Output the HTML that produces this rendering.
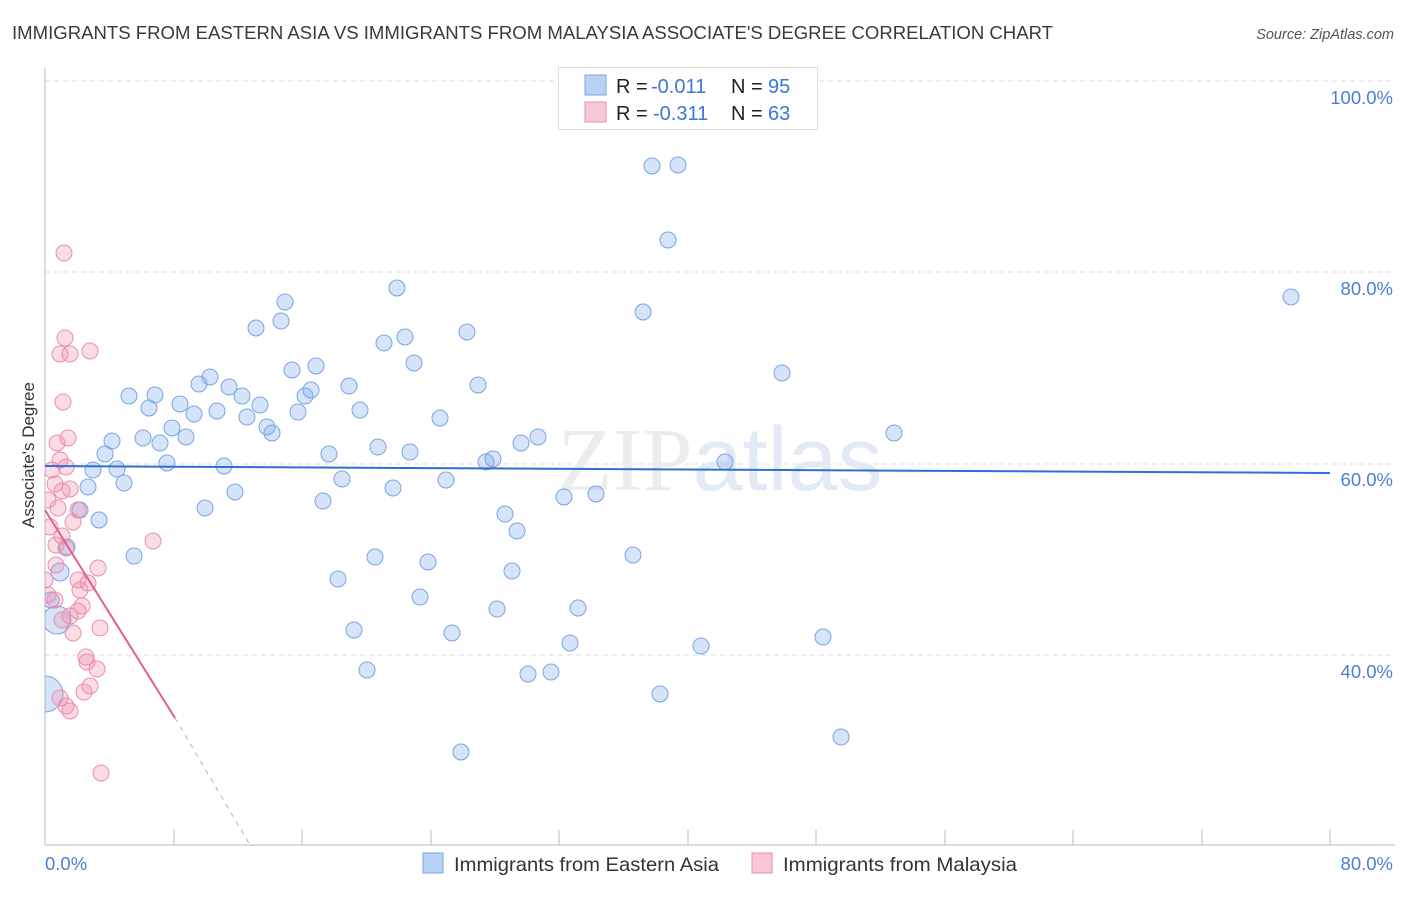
<!DOCTYPE html>
<html><head><meta charset="utf-8"><style>
body{margin:0;background:#fff;font-family:"Liberation Sans",sans-serif}
</style></head><body>
<svg width="1406" height="892" xmlns="http://www.w3.org/2000/svg" font-family="Liberation Sans, sans-serif">
<defs><clipPath id="c"><rect x="45" y="60" width="1360" height="785"/></clipPath></defs>
<text x="12" y="39" font-size="18.6" fill="#3a3a3a" textLength="1041" lengthAdjust="spacingAndGlyphs">IMMIGRANTS FROM EASTERN ASIA VS IMMIGRANTS FROM MALAYSIA ASSOCIATE'S DEGREE CORRELATION CHART</text>
<text x="1394" y="39" font-size="14.5" fill="#555" font-style="italic" text-anchor="end">Source: ZipAtlas.com</text>
<g stroke="#ddd" stroke-dasharray="5,4" stroke-width="1">
<line x1="45" y1="81" x2="1395" y2="81"/><line x1="45" y1="272" x2="1395" y2="272"/><line x1="45" y1="464" x2="1395" y2="464"/><line x1="45" y1="655" x2="1395" y2="655"/>
</g>
<line x1="45" y1="68" x2="45" y2="845" stroke="#bbb"/>
<line x1="45" y1="845" x2="1395" y2="845" stroke="#bbb"/>
<g stroke="#bbb"><line x1="174" y1="830" x2="174" y2="845"/><line x1="302" y1="830" x2="302" y2="845"/><line x1="431" y1="830" x2="431" y2="845"/><line x1="559" y1="830" x2="559" y2="845"/><line x1="688" y1="830" x2="688" y2="845"/><line x1="816" y1="830" x2="816" y2="845"/><line x1="945" y1="830" x2="945" y2="845"/><line x1="1073" y1="830" x2="1073" y2="845"/><line x1="1202" y1="830" x2="1202" y2="845"/><line x1="1330" y1="830" x2="1330" y2="845"/></g>
<g font-size="18.5" fill="#4a7fd6" text-anchor="end"><text x="1393" y="104">100.0%</text><text x="1393" y="295">80.0%</text><text x="1393" y="486">60.0%</text><text x="1393" y="678">40.0%</text></g>
<text x="45" y="870" font-size="18.5" fill="#4a7fd6">0.0%</text>
<text x="1393" y="870" font-size="18.5" fill="#4a7fd6" text-anchor="end">80.0%</text>
<text transform="translate(34,455) rotate(-90)" font-size="17" fill="#333" text-anchor="middle">Associate's Degree</text>
<text x="720" y="490" font-size="90" fill="#ececec" text-anchor="middle" font-family="Liberation Serif, serif">ZIP<tspan font-family="Liberation Sans, sans-serif" fill="#e2eaf6">atlas</tspan></text>
<g clip-path="url(#c)">
<g fill="rgba(120,165,235,0.3)" stroke="#7aa5e3" stroke-width="1">
<circle cx="652" cy="166" r="8"/><circle cx="678" cy="165" r="8"/><circle cx="668" cy="240" r="8"/><circle cx="1291" cy="297" r="8"/><circle cx="397" cy="288" r="8"/><circle cx="285" cy="302" r="8"/><circle cx="281" cy="321" r="8"/><circle cx="256" cy="328" r="8"/><circle cx="643" cy="312" r="8"/><circle cx="467" cy="332" r="8"/><circle cx="405" cy="337" r="8"/><circle cx="384" cy="343" r="8"/><circle cx="414" cy="363" r="8"/><circle cx="316" cy="366" r="8"/><circle cx="292" cy="370" r="8"/><circle cx="782" cy="373" r="8"/><circle cx="210" cy="377" r="8"/><circle cx="199" cy="384" r="8"/><circle cx="229" cy="387" r="8"/><circle cx="311" cy="390" r="8"/><circle cx="349" cy="386" r="8"/><circle cx="478" cy="385" r="8"/><circle cx="129" cy="396" r="8"/><circle cx="155" cy="395" r="8"/><circle cx="149" cy="408" r="8"/><circle cx="180" cy="404" r="8"/><circle cx="242" cy="396" r="8"/><circle cx="305" cy="396" r="8"/><circle cx="260" cy="405" r="8"/><circle cx="194" cy="414" r="8"/><circle cx="217" cy="411" r="8"/><circle cx="247" cy="417" r="8"/><circle cx="298" cy="412" r="8"/><circle cx="360" cy="410" r="8"/><circle cx="440" cy="418" r="8"/><circle cx="172" cy="428" r="8"/><circle cx="267" cy="427" r="8"/><circle cx="272" cy="433" r="8"/><circle cx="186" cy="437" r="8"/><circle cx="143" cy="438" r="8"/><circle cx="160" cy="443" r="8"/><circle cx="112" cy="441" r="8"/><circle cx="538" cy="437" r="8"/><circle cx="521" cy="443" r="8"/><circle cx="378" cy="447" r="8"/><circle cx="410" cy="452" r="8"/><circle cx="329" cy="454" r="8"/><circle cx="894" cy="433" r="8"/><circle cx="105" cy="454" r="8"/><circle cx="167" cy="463" r="8"/><circle cx="224" cy="466" r="8"/><circle cx="93" cy="470" r="8"/><circle cx="117" cy="469" r="8"/><circle cx="486" cy="462" r="8"/><circle cx="493" cy="459" r="8"/><circle cx="725" cy="462" r="8"/><circle cx="342" cy="479" r="8"/><circle cx="446" cy="480" r="8"/><circle cx="124" cy="483" r="8"/><circle cx="88" cy="487" r="8"/><circle cx="235" cy="492" r="8"/><circle cx="393" cy="488" r="8"/><circle cx="323" cy="501" r="8"/><circle cx="564" cy="497" r="8"/><circle cx="596" cy="494" r="8"/><circle cx="205" cy="508" r="8"/><circle cx="80" cy="510" r="8"/><circle cx="505" cy="514" r="8"/><circle cx="99" cy="520" r="8"/><circle cx="517" cy="531" r="8"/><circle cx="67" cy="547" r="8"/><circle cx="134" cy="556" r="8"/><circle cx="375" cy="557" r="8"/><circle cx="428" cy="562" r="8"/><circle cx="633" cy="555" r="8"/><circle cx="512" cy="571" r="8"/><circle cx="338" cy="579" r="8"/><circle cx="420" cy="597" r="8"/><circle cx="497" cy="609" r="8"/><circle cx="578" cy="608" r="8"/><circle cx="354" cy="630" r="8"/><circle cx="452" cy="633" r="8"/><circle cx="570" cy="643" r="8"/><circle cx="823" cy="637" r="8"/><circle cx="701" cy="646" r="8"/><circle cx="367" cy="670" r="8"/><circle cx="528" cy="674" r="8"/><circle cx="551" cy="672" r="8"/><circle cx="660" cy="694" r="8"/><circle cx="461" cy="752" r="8"/><circle cx="841" cy="737" r="8"/><circle cx="57" cy="620" r="14"/><circle cx="45" cy="694" r="18"/><circle cx="60" cy="572" r="9"/><circle cx="51" cy="600" r="8"/>
</g>
<g fill="rgba(240,140,170,0.3)" stroke="#e98fae" stroke-width="1">
<circle cx="64" cy="253" r="8"/><circle cx="65" cy="338" r="8"/><circle cx="60" cy="354" r="8"/><circle cx="70" cy="354" r="8"/><circle cx="90" cy="351" r="8"/><circle cx="63" cy="402" r="8"/><circle cx="68" cy="438" r="8"/><circle cx="57" cy="443" r="8"/><circle cx="60" cy="460" r="8"/><circle cx="52" cy="470" r="8"/><circle cx="66" cy="467" r="8"/><circle cx="55" cy="484" r="8"/><circle cx="62" cy="491" r="8"/><circle cx="70" cy="489" r="8"/><circle cx="48" cy="500" r="8"/><circle cx="58" cy="508" r="8"/><circle cx="78" cy="510" r="8"/><circle cx="73" cy="522" r="8"/><circle cx="50" cy="527" r="8"/><circle cx="62" cy="536" r="8"/><circle cx="56" cy="545" r="8"/><circle cx="66" cy="548" r="8"/><circle cx="153" cy="541" r="8"/><circle cx="56" cy="565" r="8"/><circle cx="78" cy="580" r="8"/><circle cx="98" cy="568" r="8"/><circle cx="88" cy="583" r="8"/><circle cx="80" cy="590" r="8"/><circle cx="55" cy="600" r="8"/><circle cx="82" cy="606" r="8"/><circle cx="78" cy="611" r="8"/><circle cx="62" cy="620" r="8"/><circle cx="70" cy="616" r="8"/><circle cx="100" cy="628" r="8"/><circle cx="73" cy="633" r="8"/><circle cx="86" cy="657" r="8"/><circle cx="87" cy="662" r="8"/><circle cx="97" cy="669" r="8"/><circle cx="90" cy="686" r="8"/><circle cx="84" cy="692" r="8"/><circle cx="60" cy="698" r="8"/><circle cx="66" cy="706" r="8"/><circle cx="70" cy="711" r="8"/><circle cx="101" cy="773" r="8"/><circle cx="48" cy="595" r="8"/><circle cx="45" cy="580" r="8"/>
</g>
</g>
<line x1="45" y1="466" x2="1330" y2="473" stroke="#2f6fd0" stroke-width="2"/>
<line x1="45" y1="510" x2="175" y2="718" stroke="#e0608d" stroke-width="2"/>
<line x1="175" y1="718" x2="250" y2="845" stroke="#e0a0b8" stroke-width="1" stroke-dasharray="5,5"/>
<rect x="558.5" y="67.5" width="259" height="62" fill="#fff" stroke="#ddd"/>
<rect x="585" y="75" width="21" height="20" fill="#b8d2f5" stroke="#7aa5e3"/>
<rect x="585" y="102" width="21" height="20" fill="#f9c6d5" stroke="#e98fae"/>
<g font-size="20"><text x="616" y="93" fill="#222">R = </text><text x="651" y="93" fill="#3a78d6">-0.011</text><text x="731" y="93" fill="#222">N = </text><text x="768" y="93" fill="#3a78d6">95</text>
<text x="616" y="120" fill="#222">R = </text><text x="653" y="120" fill="#3a78d6">-0.311</text><text x="731" y="120" fill="#222">N = </text><text x="768" y="120" fill="#3a78d6">63</text></g>
<rect x="423" y="853" width="20" height="20" fill="#b8d2f5" stroke="#7aa5e3"/>
<text x="454" y="871" font-size="19.5" fill="#333" textLength="265" lengthAdjust="spacingAndGlyphs">Immigrants from Eastern Asia</text>
<rect x="752" y="853" width="20" height="20" fill="#f9c6d5" stroke="#e98fae"/>
<text x="783" y="871" font-size="19.5" fill="#333" textLength="234" lengthAdjust="spacingAndGlyphs">Immigrants from Malaysia</text>
</svg>
</body></html>
